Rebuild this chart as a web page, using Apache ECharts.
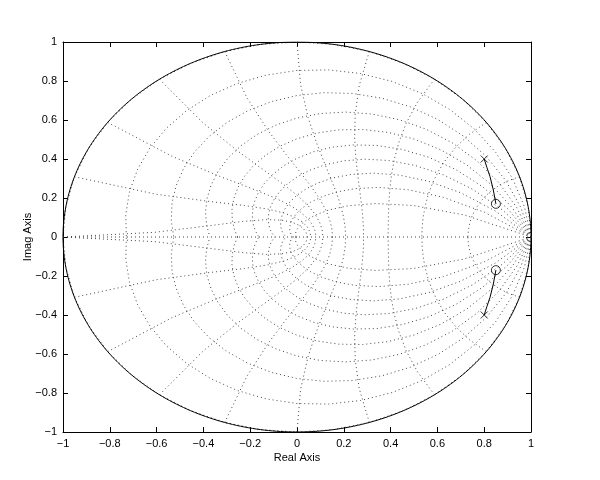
<!DOCTYPE html>
<html><head><meta charset="utf-8">
<script src="https://cdn.jsdelivr.net/npm/echarts@6/dist/echarts.min.js"></script>
<style>html,body{margin:0;background:#fff}#c{width:600px;height:480px}</style>
</head><body><div id="c"></div>
<script>
// grid parameters (zgrid)
const zetaValues = [0, 0.1, 0.2, 0.3, 0.4, 0.5, 0.6, 0.7, 0.8, 0.9];
const wnValues = [0.1, 0.2, 0.3, 0.4, 0.5, 0.6, 0.7, 0.8, 0.9, 1.0];
// poles, zeros and root locus branches
const poles = [[0.8, 0.4], [0.8, -0.4]];
const zerosPts = [[0.85, 0.17], [0.85, -0.17]];
const locusUpper = [[0.8, 0.4], [0.812, 0.355], [0.825, 0.309], [0.839, 0.241], [0.85, 0.17]];
const locusLower = locusUpper.map(p => [p[0], -p[1]]);
const realAxisLine = [[-1, 0], [1, 0]];

const series = [];
const dotted = { color: '#444', width: 1, type: [1, 3] };
function addDotted(pts) {
  series.push({ type: 'line', data: pts, showSymbol: false, symbol: 'none', silent: true,
    lineStyle: dotted, animation: false, z: 1 });
}
// damping lines
zetaValues.forEach(zeta => {
  const m = Math.tan(Math.asin(zeta));
  const up = [], dn = [];
  for (let k = 0; k <= 20; k++) {
    const t = k * Math.PI / 20, r = Math.exp(-m * t);
    up.push([r * Math.cos(t), r * Math.sin(t)]);
    dn.push([r * Math.cos(t), -r * Math.sin(t)]);
  }
  addDotted(up); addDotted(dn);
});
// natural frequency lines
wnValues.forEach(wn => {
  const up = [], dn = [];
  for (let k = 0; k <= 10; k++) {
    const th = Math.PI / 2 + k * Math.PI / 20;
    const a = wn * Math.PI * Math.cos(th), b = wn * Math.PI * Math.sin(th);
    const r = Math.exp(a);
    up.push([r * Math.cos(b), r * Math.sin(b)]);
    dn.push([r * Math.cos(b), -r * Math.sin(b)]);
  }
  addDotted(up); addDotted(dn);
});
addDotted(realAxisLine);
// unit circle
const circle = [];
for (let k = 0; k <= 360; k++) { const t = k * Math.PI / 180; circle.push([Math.cos(t), Math.sin(t)]); }
series.push({ type: 'line', data: circle, showSymbol: false, symbol: 'none', silent: true,
  lineStyle: { color: '#000', width: 1 }, animation: false, z: 2 });
[locusUpper, locusLower].forEach(l => series.push({ type: 'line', data: l, showSymbol: false, symbol: 'none',
  lineStyle: { color: '#000', width: 1 }, animation: false, z: 3 }));
series.push({ type: 'scatter', data: poles, symbol: 'path://M0,0L10,10M10,0L0,10', symbolSize: 7,
  itemStyle: { color: 'none', borderColor: '#000', borderWidth: 1 }, animation: false, z: 4 });
series.push({ type: 'scatter', data: zerosPts, symbol: 'circle', symbolSize: 9,
  itemStyle: { color: 'none', borderColor: '#000', borderWidth: 1 }, animation: false, z: 4 });

const font = 'Liberation Sans, Arial, Helvetica, sans-serif';
const fmt = v => String(+(+v).toFixed(1)).replace('-', '\u2212');
const lineS = { show: true, onZero: false, lineStyle: { color: '#000', width: 1 } };
const tickS = { show: true, inside: true, length: 5, lineStyle: { color: '#000' } };
const common = { type: 'value', min: -1, max: 1, interval: 0.2, splitLine: { show: false }, axisLine: lineS, axisTick: tickS };

const chart = echarts.init(document.getElementById('c'));
chart.setOption({
  animation: false,
  grid: { left: 63, right: 69, top: 42, bottom: 48, containLabel: false },
  xAxis: [
    Object.assign({}, common, { position: 'bottom', axisLabel: { formatter: fmt, color: '#000', fontSize: 11, fontFamily: font, margin: 6 },
      name: 'Real Axis', nameLocation: 'middle', nameGap: 20, nameMoveOverlap: false, nameTextStyle: { color: '#000', fontSize: 11, fontFamily: font } }),
    Object.assign({}, common, { position: 'top', axisLabel: { show: false } })
  ],
  yAxis: [
    Object.assign({}, common, { position: 'left', axisLabel: { formatter: fmt, color: '#000', fontSize: 11, fontFamily: font, margin: 6 },
      name: 'Imag Axis', nameLocation: 'middle', nameGap: 30, nameMoveOverlap: false, nameTextStyle: { color: '#000', fontSize: 11, fontFamily: font } }),
    Object.assign({}, common, { position: 'right', axisLabel: { show: false } })
  ],
  series: series
});
</script></body></html>
